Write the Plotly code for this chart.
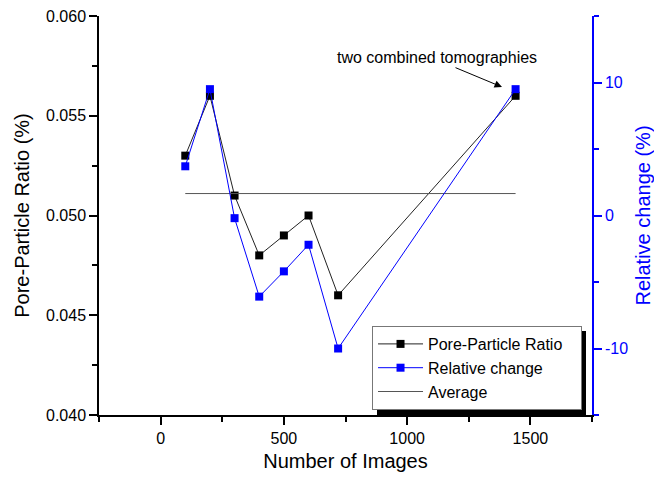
import plotly.graph_objects as go

# Data
num_images = [100, 200, 300, 400, 500, 600, 720, 1440]
pore_particle_ratio = [0.053, 0.056, 0.051, 0.048, 0.049, 0.050, 0.046, 0.056]
relative_change = [3.7, 9.5, -0.2, -6.1, -4.2, -2.2, -10.0, 9.5]
average_x = [100, 1440]
average_y = [0.0511, 0.0511]
x_ticks = [0, 500, 1000, 1500]
y2_ticks = [-10, 0, 10]
y2_tick_labels = ["-10", "0", "10"]
series_names = ["Pore-Particle Ratio", "Relative change", "Average"]

FONT = "Arial, Liberation Sans, sans-serif"
BLUE = "#0000ff"
PAD = "\u00a0" * 3  # widen legend box slightly

fig = go.Figure()
fig.add_trace(go.Scatter(
    x=num_images, y=pore_particle_ratio, name=series_names[0] + PAD,
    mode="lines+markers", line=dict(color="#222222", width=1),
    marker=dict(symbol="square", size=8, color="black"),
))
fig.add_trace(go.Scatter(
    x=num_images, y=relative_change, name=series_names[1], yaxis="y2",
    mode="lines+markers", line=dict(color=BLUE, width=1),
    marker=dict(symbol="square", size=8, color=BLUE),
))
fig.add_trace(go.Scatter(
    x=average_x, y=average_y, name=series_names[2], mode="lines",
    line=dict(color="#555555", width=1),
))

axis_common = dict(showgrid=False, zeroline=False, automargin=False,
                   tickfont=dict(size=16, family=FONT))

LEG_TOP = 326  # pixel y of legend box top
fig.update_layout(
    width=654, height=480,
    margin=dict(l=99, r=62, t=16, b=65, autoexpand=False),
    paper_bgcolor="white", plot_bgcolor="white",
    font=dict(family=FONT, size=16, color="black"),
    xaxis=dict(
        **axis_common, range=[-250, 1750], tickvals=x_ticks,
        ticks="outside", ticklen=8, tickwidth=1.5, tickcolor="black",
        minor=dict(dtick=250, tick0=0, ticks="outside", ticklen=5, tickwidth=1.5, tickcolor="black"),
        showline=True, linecolor="black", linewidth=1.5,
        title=dict(text="Number of Images", font=dict(size=20), standoff=8),
    ),
    xaxis2=dict(
        overlaying="x", side="top", range=[-250, 1750], tickvals=x_ticks,
        showgrid=False, zeroline=False, showticklabels=False, automargin=False,
        ticks="inside", ticklen=8, tickwidth=1.5, tickcolor="black",
        minor=dict(dtick=250, tick0=0, ticks="inside", ticklen=5, tickwidth=1.5, tickcolor="black"),
        showline=True, linecolor="black", linewidth=1.5,
    ),
    yaxis=dict(
        **axis_common, range=[0.040, 0.060], dtick=0.005, tickformat=".3f",
        ticks="outside", ticklen=8, tickwidth=1.5, tickcolor="black",
        minor=dict(dtick=0.0025, ticks="outside", ticklen=5, tickwidth=1.5, tickcolor="black"),
        showline=True, linecolor="black", linewidth=1.5,
        title=dict(text="Pore-Particle Ratio (%)", font=dict(size=20), standoff=11),
    ),
    yaxis2=dict(
        **axis_common, overlaying="y", side="right", range=[-15, 15],
        tickvals=y2_ticks, ticktext=y2_tick_labels,
        ticks="outside", ticklen=8, tickwidth=1.5, tickcolor=BLUE,
        minor=dict(dtick=5, ticks="outside", ticklen=5, tickwidth=1.5, tickcolor=BLUE),
        showline=True, linecolor=BLUE, linewidth=1.5, color=BLUE,
        title=dict(text="Relative change (%)", font=dict(size=20, color=BLUE), standoff=11),
    ),
    legend=dict(
        x=0.5538, y=(415 - LEG_TOP) / 399, xanchor="left", yanchor="top",
        bgcolor="white", bordercolor="#777777", borderwidth=1,
        font=dict(size=16, family=FONT), tracegroupgap=0,
        itemwidth=45,
    ),
    showlegend=True,
)

# legend drop shadow (offset 5 px right/down)
fig.add_shape(type="rect", xref="paper", yref="paper",
              x0=(377 - 99) / 493, x1=(586 - 99) / 493,
              y0=(415 - (LEG_TOP + 89)) / 399, y1=(415 - (LEG_TOP + 5)) / 399,
              fillcolor="black", line=dict(width=0), layer="above")

fig.add_annotation(x=1121, y=0.0579, xref="x", yref="y", text="two combined tomographies",
                   showarrow=False, font=dict(size=16, family=FONT))
fig.add_annotation(x=1385, y=0.05644, xref="x", yref="y", text="", showarrow=True,
                   ax=-48, ay=-20, arrowhead=2, arrowsize=1.5, arrowwidth=1, arrowcolor="black")

fig.write_html("out.html", config={"displayModeBar": False},
               post_script="document.body.style.margin='0';")
